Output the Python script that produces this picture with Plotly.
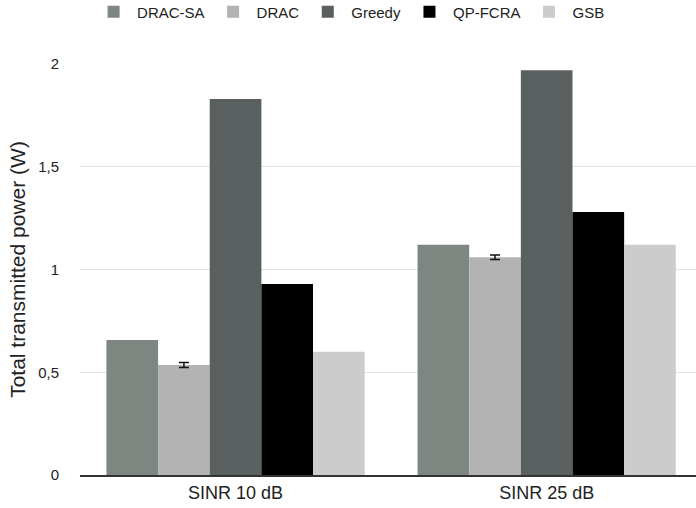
import plotly.graph_objects as go

categories = ["SINR 10 dB", "SINR 25 dB"]
series_names = ["DRAC-SA", "DRAC", "Greedy", "QP-FCRA", "GSB"]
drac_sa = [0.657, 1.12]
drac = [0.535, 1.06]
greedy = [1.83, 1.97]
qp_fcra = [0.93, 1.28]
gsb = [0.60, 1.12]
drac_err = [0.012, 0.011]
colors = ["#7E8682", "#B3B3B3", "#5A605F", "#000000", "#CCCCCC"]

values = [drac_sa, drac, greedy, qp_fcra, gsb]
errors = [None, drac_err, None, None, None]

fig = go.Figure()
for name, vals, col, err in zip(series_names, values, colors, errors):
    kw = {}
    if err is not None:
        kw["error_y"] = dict(type="data", array=err, visible=True, color="#111111",
                             thickness=1.5, width=5)
    fig.add_trace(go.Bar(x=categories, y=vals, name=name, marker_color=col,
                         marker_line_width=0, **kw))

fig.update_layout(
    width=696, height=508,
    barmode="group", bargap=0.17, bargroupgap=0,
    plot_bgcolor="white", paper_bgcolor="white",
    separators=", ",
    font=dict(family="Liberation Sans, Arial, sans-serif", size=15, color="#222222"),
    margin=dict(l=80, r=0, t=64, b=33, autoexpand=False),
    legend=dict(orientation="h", x=0.503, xanchor="center", xref="container",
                y=1.1265, yanchor="middle", yref="paper",
                font=dict(size=15), itemwidth=37, traceorder="normal"),
    xaxis=dict(range=[-0.5, 1.48], showline=True, linecolor="#333333", linewidth=1.5,
               ticks="", tickfont=dict(size=18), showgrid=False, automargin=False,
               ticklabelstandoff=1),
    yaxis=dict(range=[0, 2], tickvals=[0, 0.5, 1, 1.5, 2], showgrid=True,
               gridcolor="#E3E3E3", gridwidth=1, zeroline=False, showline=False,
               ticklabelstandoff=20, tickfont=dict(size=15), automargin=False,
               title=dict(text="Total transmitted power (W)", font=dict(size=21), standoff=6)),
)

fig.write_html("out.html",
               config={"displayModeBar": False},
               post_script="document.documentElement.style.margin='0';"
                           "document.body.style.margin='0';"
                           "document.body.style.overflow='hidden';")
